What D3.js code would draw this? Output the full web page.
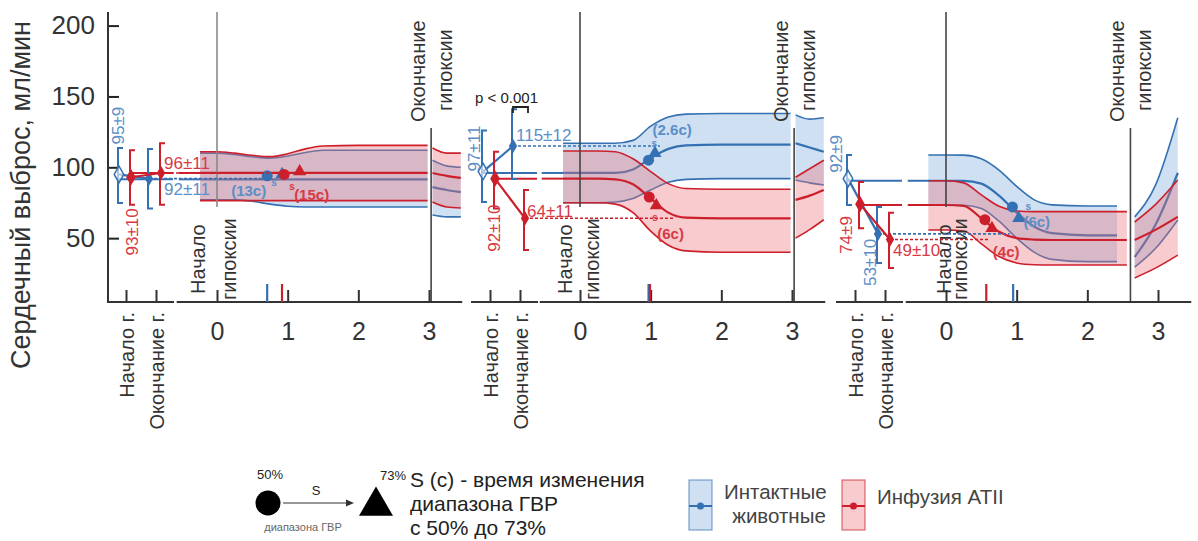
<!DOCTYPE html>
<html><head><meta charset="utf-8">
<script src="https://cdn.jsdelivr.net/npm/d3@7"></script>
<style>
html,body{margin:0;padding:0;background:#fff;}
svg{display:block;font-family:"Liberation Sans",Arial,sans-serif;}
</style></head><body>
<svg id="chart" width="1198" height="541"></svg>
<script>
// ================= DATA =================
const yTickValues = [50, 100, 150, 200];
const timeTickValues = [0, 1, 2, 3];
const stageLabels = ["Начало г.", "Окончание г."];
const groupNames = ["Интактные животные", "Инфузия ATII"];
const yTitle = "Сердечный выброс, мл/мин";

// endpoint values per panel (mean, low, high)
const blueStartMean = [95, 97, 92];
const blueStartLow  = [74.8, 75.5, 73.4];
const blueStartHigh = [113.6, 126, 108.7];
const blueEndMean   = [92, 115, 53];
const blueEndLow    = [71, 91.7, 32.5];
const blueEndHigh   = [113, 141, 72];
const redStartMean  = [93, 92, 74];
const redStartLow   = [73.5, 71, 57];
const redStartHigh  = [112, 111, 89.6];
const redEndMean    = [96, 64, 49];
const redEndLow     = [73.5, 41.6, 29];
const redEndHigh    = [117, 84, 68];
const blueStartText = ["95±9", "97±11", "92±9"];
const blueEndText   = ["92±11", "115±12", "53±10"];
const redStartText  = ["93±10", "92±10", "74±9"];
const redEndText    = ["96±11", "64±11", "49±10"];

// hypoxia bands (time in minutes)
const bandTime12 = [-0.24, 0, 0.25, 0.5, 0.75, 1.0, 1.25, 1.5, 2.0, 2.5, 2.98];
const p1BlueHigh = [110, 110, 109, 107.5, 106.5, 108, 110.5, 112, 112, 112, 112];
const p1BlueMid  = [91.5, 91.5, 91.5, 91.5, 91.5, 91.5, 91.5, 91.5, 91.5, 91.5, 91.5];
const p1BlueLow  = [77, 77, 77, 76, 74, 72.5, 72, 72, 72, 72, 72];
const p1RedHigh  = [111, 111, 110, 108.5, 107.5, 109.5, 113, 115, 115.5, 115.5, 115.5];
const p1RedMid   = [96, 96, 96, 96, 96, 96, 96, 96, 96, 96, 96];
const p1RedLow   = [76.5, 76.5, 76.5, 76.5, 76.5, 76.5, 76.5, 76.5, 76.5, 76.5, 76.5];

const p2BlueHigh = [117, 117, 117, 117, 119, 129, 135.5, 137.5, 138, 138, 138];
const p2BlueMid  = [96, 96, 96, 96, 98.5, 106.5, 113, 115.5, 116, 116, 116];
const p2BlueLow  = [75, 75, 75, 75.5, 78, 84, 89.5, 91.5, 92, 92, 92];
const p2RedHigh  = [111.5, 111.5, 111.5, 111, 106, 97, 88.5, 85, 84.5, 84.5, 84.5];
const p2RedMid   = [92, 92, 92, 91.5, 88, 78, 68, 64.5, 64, 64, 64];
const p2RedLow   = [75, 75, 75, 74, 68, 55, 45, 41, 40, 40, 40];

const p3BlueTime = [-0.25, 0, 0.25, 0.5, 0.75, 1.0, 1.25, 1.5, 2.0, 2.42];
const p3BlueHigh = [108.7, 108.7, 108.6, 106, 98, 86.5, 77, 73.5, 72.7, 72.7];
const p3BlueMid  = [90.5, 90.5, 90.4, 88.5, 80, 68, 58, 53.5, 52, 52];
const p3BlueLow  = [73.4, 73.4, 73.2, 71, 62, 50, 40, 35, 33.4, 33.4];
const p3RedTime  = [-0.25, 0, 0.25, 0.5, 0.75, 1.0, 1.25, 1.5, 2.0, 2.56];
const p3RedHigh  = [90.5, 90.5, 89, 80.5, 72.5, 69.2, 68.7, 68.7, 68.7, 68.7];
const p3RedMid   = [73.4, 73.4, 72.8, 64, 54.5, 50, 49, 48.7, 48.7, 48.7];
const p3RedLow   = [55.7, 55.7, 55, 46, 37, 32.5, 31.2, 31, 31, 31];

// post-hypoxia segments
const postTime12 = [3.05, 3.25, 3.45];
const p1PostBlueHigh = [105, 101, 100];
const p1PostBlueMid  = [86, 84, 82.5];
const p1PostBlueLow  = [66.3, 65, 65];
const p1PostRedHigh  = [113.6, 110, 110];
const p1PostRedMid   = [96, 94, 92.5];
const p1PostRedLow   = [75.5, 72, 71.3];
const p2PostBlueHigh = [137, 134, 135];
const p2PostBlueMid  = [117, 114, 111];
const p2PostBlueLow  = [91, 89, 87.5];
const p2PostRedHigh  = [93, 99, 105];
const p2PostRedMid   = [77, 80, 84];
const p2PostRedLow   = [50, 56, 63];
const postTime3 = [2.67, 2.97, 3.28];
const p3PostBlueHigh = [65, 88, 135];
const p3PostBlueMid  = [36.7, 60, 96];
const p3PostBlueLow  = [29.6, 43, 62.8];
const p3PostRedHigh  = [61.4, 74, 91];
const p3PostRedMid   = [48.7, 56, 65];
const p3PostRedLow   = [21.9, 29, 38];

// 50% (circle) and 73% (triangle) points of range change
const blueHalfTime = [0.71, 0.97, 0.94];
const blueHalfVal  = [94, 105, 72];
const blue73Time   = [0.92, 1.06, 1.03];
const blue73Val    = [95, 110, 64];
const redHalfTime  = [0.95, 0.98, 0.55];
const redHalfVal   = [95, 79, 63];
const red73Time    = [1.17, 1.08, 0.65];
const red73Val     = [97, 73, 57];
const blueShiftText = ["(13c)", "(2.6c)", "(6c)"];
const redShiftText  = ["(15c)", "(6c)", "(4c)"];
const blueTickTime = [0.71, 0.97, 0.95];
const redTickTime  = [0.92, 0.99, 0.57];
const blueDashEnd  = [0.68, 1.13, 0.9];
const redDashEnd   = [0.94, 1.32, 0.62];
const hypoxiaEnd   = [3.03, 3.03, 2.61];

// ================= LAYOUT =================
const BLUE = "#3571b2", RED = "#cc1f2b";
const BLUE_T = "#5b8fc8", RED_T = "#d73a45";
const BLUE_F = "rgba(120,170,220,0.36)", RED_F = "rgba(236,110,120,0.36)";
const BASE = 302;
const panelT0 = [217, 580, 946];
const panelShift = [0, 364, 729];
const groupJitter = {blue: -7, red: 5};

const svg = d3.select("#chart");
const y = d3.scaleLinear().domain([0, 200]).range([309, 25.6]);
const stageX = d3.scalePoint().domain(stageLabels).range([126, 156]);

const bandsBlue = [[bandTime12, p1BlueHigh, p1BlueMid, p1BlueLow],
                   [bandTime12, p2BlueHigh, p2BlueMid, p2BlueLow],
                   [p3BlueTime, p3BlueHigh, p3BlueMid, p3BlueLow]];
const bandsRed = [[bandTime12, p1RedHigh, p1RedMid, p1RedLow],
                  [bandTime12, p2RedHigh, p2RedMid, p2RedLow],
                  [p3RedTime, p3RedHigh, p3RedMid, p3RedLow]];
const postBlue = [[postTime12, p1PostBlueHigh, p1PostBlueMid, p1PostBlueLow],
                  [postTime12, p2PostBlueHigh, p2PostBlueMid, p2PostBlueLow],
                  [postTime3, p3PostBlueHigh, p3PostBlueMid, p3PostBlueLow]];
const postRed = [[postTime12, p1PostRedHigh, p1PostRedMid, p1PostRedLow],
                 [postTime12, p2PostRedHigh, p2PostRedMid, p2PostRedLow],
                 [postTime3, p3PostRedHigh, p3PostRedMid, p3PostRedLow]];

// ---- Y axis ----
const yAx = svg.append("g").attr("transform", "translate(108,0)")
  .call(d3.axisLeft(y).tickValues(yTickValues).tickSize(-11).tickPadding(13));
yAx.select(".domain").remove();
yAx.selectAll(".tick line").attr("stroke", "#222").attr("stroke-width", 2);
yAx.selectAll(".tick text").attr("font-size", 26).attr("fill", "#333")
  .attr("font-family", "Liberation Sans, Arial, sans-serif");
svg.append("line").attr("x1", 108).attr("x2", 108).attr("y1", 12).attr("y2", BASE)
  .attr("stroke", "#333").attr("stroke-width", 2);
svg.append("text").attr("transform", "translate(21,195) rotate(-90)")
  .attr("text-anchor", "middle").attr("dy", "0.35em").attr("font-size", 27).attr("fill", "#333")
  .text(yTitle);

function rotText(g, x, yy, txt, anchor, size, color) {
  return g.append("text").attr("transform", `translate(${x},${yy}) rotate(-90)`)
    .attr("text-anchor", anchor).attr("dy", "0.35em")
    .attr("font-size", size).attr("fill", color).text(txt);
}

const lineGen = (xs) => d3.line().x(d => xs(d[0])).y(d => y(d[1])).curve(d3.curveMonotoneX);
const areaGen = (xs) => d3.area().x(d => xs(d[0])).y0(d => y(d[1])).y1(d => y(d[2])).curve(d3.curveMonotoneX);

function drawBand(g, xs, b, fill, stroke, lineGenF, areaF) {
  const [t, hi, mid, lo] = b;
  g.append("path").datum(t.map((tt, k) => [tt, lo[k], hi[k]]))
    .attr("d", areaF).attr("fill", fill);
  [[hi, 1.6], [mid, 2.2], [lo, 1.6]].forEach(([arr, w]) => {
    g.append("path").datum(t.map((tt, k) => [tt, arr[k]]))
      .attr("d", lineGenF).attr("fill", "none").attr("stroke", stroke).attr("stroke-width", w);
  });
}

// label offsets (layout)
const startLabelLayout = {
  blue: [{dx: -1, dy: -30, a: "start"}, {dx: -9, dy: 0, a: "start"}, {dx: -12, dy: -6, a: "start"}],
  red:  [{dx: 1, dy: 31, a: "end"}, {dx: -1, dy: 26, a: "end"}, {dx: -14, dy: 12, a: "end"}]
};
const endLabelLayout = {
  blue: [{dx: 15, dy: 10, rot: false}, {dx: 3, dy: -11, rot: false}, {dx: -8, dy: 5, rot: true}],
  red:  [{dx: 3, dy: -10, rot: false}, {dx: 2, dy: -7, rot: false}, {dx: 3, dy: 10, rot: false}]
};
const shiftLayout = {
  blue: [{dx: -1, dy: 15, a: "end", sx: 4, sy: 7}, {dx: 4, dy: -30, a: "start", sx: 3, sy: -17},
         {dx: 11, dy: 15, a: "start", sx: 13, sy: 0}],
  red:  [{dx: 10, dy: 20, a: "start", sx: 5, sy: 12}, {dx: 8, dy: 37, a: "start", sx: 3, sy: 20},
         {dx: 8, dy: 32, a: "start", sx: 0, sy: 0}]
};
const hypLabelDx = [[-19, 12], [-15, 12], [-2, 14]];

for (let i = 0; i < 3; i++) {
  const g = svg.append("g");
  const sh = panelShift[i];
  const xt = d3.scaleLinear().domain([0, 3]).range([panelT0[i], panelT0[i] + 212]);
  const sx = (stage, grp) => stageX(stage) + sh + groupJitter[grp];
  const bandLayer = g.append("g");
  const lg = lineGen(xt), ag = areaGen(xt);

  drawBand(bandLayer, xt, bandsBlue[i], BLUE_F, BLUE, lg, ag);
  drawBand(bandLayer, xt, bandsRed[i], RED_F, RED, lg, ag);
  drawBand(bandLayer, xt, postBlue[i], BLUE_F, BLUE, lg, ag);
  drawBand(bandLayer, xt, postRed[i], RED_F, RED, lg, ag);

  g.append("line").attr("x1", xt(0)).attr("x2", xt(0)).attr("y1", 12).attr("y2", 207)
    .attr("stroke", i === 0 ? "#8a8a8a" : "#444").attr("stroke-width", 1.6);
  g.append("line").attr("x1", xt(hypoxiaEnd[i])).attr("x2", xt(hypoxiaEnd[i])).attr("y1", 128).attr("y2", BASE)
    .attr("stroke", "#444").attr("stroke-width", 1.6);
  rotText(g, xt(0) + hypLabelDx[i][0], 294, "Начало", "start", 20, "#333");
  rotText(g, xt(0) + hypLabelDx[i][1], 300, "гипоксии", "start", 20, "#333");
  rotText(g, xt(hypoxiaEnd[i]) - 13, 122, "Окончание", "start", 20, "#333");
  rotText(g, xt(hypoxiaEnd[i]) + 14, 111, "гипоксии", "start", 20, "#333");

  const smallEnd = 174 + sh, smallStart = 107 + sh, timeStart = xt(-0.57), timeEnd = xt(3.47);
  g.append("line").attr("x1", smallStart).attr("x2", smallEnd).attr("y1", BASE).attr("y2", BASE)
    .attr("stroke", "#333").attr("stroke-width", 2);
  g.append("line").attr("x1", timeStart).attr("x2", timeEnd).attr("y1", BASE).attr("y2", BASE)
    .attr("stroke", "#333").attr("stroke-width", 2);
  const sAx = g.append("g").attr("transform", `translate(${sh},${BASE})`)
    .call(d3.axisBottom(stageX).tickSize(-12).tickSizeOuter(0));
  sAx.select(".domain").remove();
  sAx.selectAll(".tick line").attr("stroke", "#333").attr("stroke-width", 2);
  sAx.selectAll(".tick text").attr("font-size", 20).attr("fill", "#333")
    .attr("font-family", "Liberation Sans, Arial, sans-serif")
    .attr("text-anchor", "end").attr("transform", "rotate(-90)")
    .attr("x", -10).attr("y", 0).attr("dy", "0.35em");
  const tAx = g.append("g").attr("transform", `translate(0,${BASE})`)
    .call(d3.axisBottom(xt).tickValues(timeTickValues).tickFormat(d3.format("d"))
      .tickSize(-12).tickSizeOuter(0).tickPadding(20));
  tAx.select(".domain").remove();
  tAx.selectAll(".tick line").attr("stroke", "#333").attr("stroke-width", 2);
  tAx.selectAll(".tick text").attr("font-size", 25).attr("fill", "#333")
    .attr("font-family", "Liberation Sans, Arial, sans-serif");

  [[blueTickTime[i], BLUE], [redTickTime[i], RED]].forEach(([t, c]) => {
    g.append("line").attr("x1", xt(t)).attr("x2", xt(t)).attr("y1", BASE - 18).attr("y2", BASE)
      .attr("stroke", c).attr("stroke-width", 2.2);
  });

  [["blue", BLUE, bandsBlue[i][2][0]], ["red", RED, bandsRed[i][2][0]]].forEach(([grp, c, lvl]) => {
    const x0 = sx(stageLabels[0], grp);
    g.append("line").attr("x1", x0).attr("x2", smallEnd - 1).attr("y1", y(lvl)).attr("y2", y(lvl))
      .attr("stroke", c).attr("stroke-width", 2);
    g.append("line").attr("x1", timeStart + 2).attr("x2", xt(bandTime12[0])).attr("y1", y(lvl)).attr("y2", y(lvl))
      .attr("stroke", c).attr("stroke-width", 2);
  });

  const groups = [
    {grp: "blue", c: BLUE, ct: BLUE_T,
     sm: blueStartMean[i], sl: blueStartLow[i], shh: blueStartHigh[i],
     em: blueEndMean[i], el: blueEndLow[i], eh: blueEndHigh[i],
     st: blueStartText[i], et: blueEndText[i], dash: blueDashEnd[i],
     ht: blueHalfTime[i], hv: blueHalfVal[i], tt: blue73Time[i], tv: blue73Val[i], shText: blueShiftText[i]},
    {grp: "red", c: RED, ct: RED_T,
     sm: redStartMean[i], sl: redStartLow[i], shh: redStartHigh[i],
     em: redEndMean[i], el: redEndLow[i], eh: redEndHigh[i],
     st: redStartText[i], et: redEndText[i], dash: redDashEnd[i],
     ht: redHalfTime[i], hv: redHalfVal[i], tt: red73Time[i], tv: red73Val[i], shText: redShiftText[i]}
  ];
  groups.forEach(d => {
    const xs0 = sx(stageLabels[0], d.grp), xe0 = sx(stageLabels[1], d.grp);
    g.append("line").attr("x1", xe0).attr("x2", xt(d.dash)).attr("y1", y(d.em)).attr("y2", y(d.em))
      .attr("stroke", d.c).attr("stroke-width", 1.6).attr("stroke-dasharray", "3,2");
    g.append("line").attr("x1", xs0).attr("x2", xe0).attr("y1", y(d.sm)).attr("y2", y(d.em))
      .attr("stroke", d.c).attr("stroke-width", 2.2);
    [[xs0, d.sl, d.shh], [xe0, d.el, d.eh]].forEach(([xx, lo, hi]) => {
      g.append("path").attr("d", `M${xx + 4},${y(hi)}H${xx - 1}V${y(lo)}H${xx + 4}`)
        .attr("fill", "none").attr("stroke", d.c).attr("stroke-width", 2);
    });
    g.append("path").attr("transform", `translate(${xs0},${y(d.sm)})`)
      .attr("d", d3.symbol(d3.symbolDiamond, d.grp === "blue" ? 80 : 55)())
      .attr("fill", d.grp === "blue" ? "#fff" : d.c).attr("fill-opacity", d.grp === "blue" ? 0.6 : 1)
      .attr("stroke", d.c).attr("stroke-width", 1.5);
    g.append("path").attr("transform", `translate(${xe0},${y(d.em)})`)
      .attr("d", d3.symbol(d3.symbolDiamond, 60)()).attr("fill", d.c);
    g.append("circle").attr("cx", xt(d.ht)).attr("cy", y(d.hv)).attr("r", 5.5).attr("fill", d.c);
    g.append("path").attr("transform", `translate(${xt(d.tt)},${y(d.tv)})`)
      .attr("d", d3.symbol(d3.symbolTriangle, 75)()).attr("fill", d.c);
    const L = shiftLayout[d.grp][i];
    g.append("text").attr("x", xt(d.ht) + L.dx).attr("y", y(d.hv) + L.dy).attr("dy", "0.35em")
      .attr("text-anchor", L.a).attr("font-size", 15).attr("font-weight", "bold").attr("fill", d.ct)
      .text(d.shText);
    if (L.sx || L.sy) {
      g.append("text").attr("x", xt(d.ht) + L.sx).attr("y", y(d.hv) + L.sy).attr("dy", "0.35em")
        .attr("font-size", 10).attr("font-weight", "bold").attr("fill", d.ct).text("s");
    }
    const SL = startLabelLayout[d.grp][i];
    rotText(g, xs0 + SL.dx, y(d.sm) + SL.dy, d.st, SL.a, 17, d.ct);
    const EL = endLabelLayout[d.grp][i];
    if (EL.rot) rotText(g, xe0 + EL.dx, y(d.em) + EL.dy, d.et, "end", 17, d.ct);
    else g.append("text").attr("x", xe0 + EL.dx).attr("y", y(d.em) + EL.dy).attr("dy", "0.35em")
      .attr("font-size", 17).attr("fill", d.ct).text(d.et);
  });

  if (i === 1) {
    g.append("text").attr("x", 475).attr("y", 98).attr("dy", "0.35em").attr("font-size", 15)
      .attr("fill", "#222").text("p < 0.001");
    g.append("path").attr("d", "M513,113V107H528V113").attr("fill", "none")
      .attr("stroke", "#222").attr("stroke-width", 1.8);
  }
}

// ================= LEGEND =================
const lg = svg.append("g").attr("fill", "#222");
lg.append("circle").attr("cx", 268).attr("cy", 503).attr("r", 12.5).attr("fill", "#000");
lg.append("text").attr("x", 270).attr("y", 479).attr("text-anchor", "middle").attr("font-size", 13).text("50%");
lg.append("line").attr("x1", 283).attr("x2", 350).attr("y1", 503).attr("y2", 503).attr("stroke", "#333").attr("stroke-width", 1.2);
lg.append("path").attr("d", "M354,503L346,499.5L346,506.5Z").attr("fill", "#333");
lg.append("text").attr("x", 316).attr("y", 495).attr("text-anchor", "middle").attr("font-size", 13).text("S");
lg.append("path").attr("d", d3.symbol(d3.symbolTriangle, 500)()).attr("transform", "translate(376,506)").attr("fill", "#000");
lg.append("text").attr("x", 393).attr("y", 480).attr("text-anchor", "middle").attr("font-size", 13).text("73%");
lg.append("text").attr("x", 303).attr("y", 531).attr("text-anchor", "middle").attr("font-size", 11).attr("fill", "#666").text("диапазона ГВР");
["S (c) - время изменения", "диапазона ГВР", "с 50% до 73%"].forEach((t, k) => {
  lg.append("text").attr("x", 410).attr("y", 480 + k * 24).attr("dy", "0.35em").attr("font-size", 21).text(t);
});
[[689, BLUE, BLUE_F], [842, RED, RED_F]].forEach(([x0, c, f]) => {
  lg.append("rect").attr("x", x0).attr("y", 480).attr("width", 23).attr("height", 50)
    .attr("fill", f).attr("stroke", c).attr("stroke-opacity", 0.6).attr("stroke-width", 1.3);
  lg.append("line").attr("x1", x0).attr("x2", x0 + 23).attr("y1", 506).attr("y2", 506).attr("stroke", c).attr("stroke-width", 2);
  lg.append("circle").attr("cx", x0 + 11.5).attr("cy", 506).attr("r", 3.5).attr("fill", c);
});
lg.append("text").attr("x", 724).attr("y", 492).attr("dy", "0.35em").attr("font-size", 20.5).attr("fill", "#444").text("Интактные");
lg.append("text").attr("x", 779).attr("y", 516).attr("dy", "0.35em").attr("text-anchor", "middle").attr("font-size", 20.5).attr("fill", "#444").text("животные");
lg.append("text").attr("x", 877).attr("y", 497).attr("dy", "0.35em").attr("font-size", 20.5).attr("fill", "#444").text("Инфузия ATII");
</script>
</body></html>
